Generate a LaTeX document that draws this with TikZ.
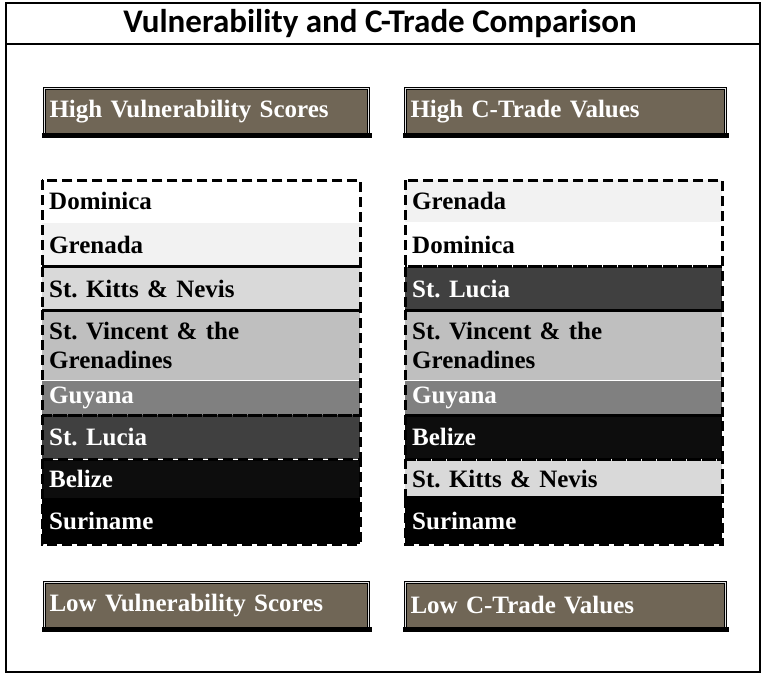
\documentclass[tikz,border=0pt]{standalone}
\usepackage{fontspec}
\setmainfont{Liberation Serif}
\newfontfamily\calibri{Carlito}
\usetikzlibrary{positioning}
\frenchspacing

\definecolor{headbrown}{HTML}{706656}
\definecolor{shade1}{HTML}{FFFFFF}
\definecolor{shade2}{HTML}{F2F2F2}
\definecolor{shade3}{HTML}{D9D9D9}
\definecolor{shade4}{HTML}{BFBFBF}
\definecolor{shade5}{HTML}{808080}
\definecolor{shade6}{HTML}{404040}
\definecolor{shade7}{HTML}{0D0D0D}
\definecolor{shade8}{HTML}{000000}

\begin{document}
\begin{tikzpicture}[x=1pt,y=-1pt,
    country/.style={anchor=north west,inner xsep=7pt,inner ysep=0pt,text width=#1,align=left,
        font=\fontsize{25}{29}\selectfont\bfseries,text=black},
    darkcountry/.style={country=#1,text=white},
    head/.style={anchor=north west,fill=headbrown,draw=black,line width=1pt,double=gray!25,
        double distance=1.5pt,inner xsep=5pt,inner ysep=0pt,minimum height=46pt,text width=#1,
        align=left,text=white,font=\fontsize{25}{29}\selectfont\bfseries},
    group/.style={draw=black,line width=3pt,dash pattern=on 10pt off 5pt},
    shadowbar/.style={line width=5pt,line cap=rect}]
\useasboundingbox (0,0) rectangle (761,673);
\draw[line width=2pt] (6,3) rectangle (759.5,672);
\draw[line width=2pt] (6,44) -- (759.5,44);
\node[font=\calibri\bfseries\fontsize{33}{38}\selectfont,anchor=base] (title) at (380,32) {Vulnerability and C-Trade Comparison};

% headers
\node[head=314pt] (hvs) at (44,88) {High Vulnerability Scores};
\node[head=310pt] (hct) at (405,88) {High C-Trade Values};
\node[head=314pt] (lvs) at (44,582) {Low Vulnerability Scores};
\node[head=310pt] (lct) at (405,582) {Low C-Trade Values};
\draw[shadowbar] (hvs.south west) -- (hvs.south east);
\draw[shadowbar] (hct.south west) -- (hct.south east);
\draw[shadowbar] (lvs.south west) -- (lvs.south east);
\draw[shadowbar] (lct.south west) -- (lct.south east);

% vulnerability ranking
\node[country=304pt,fill=shade1,minimum height=42pt] (vul_1) at (42,180) {Dominica};
\node[country=304pt,fill=shade2,minimum height=44pt] (vul_2) [below=0pt of vul_1] {Grenada};
\node[country=304pt,fill=shade3,minimum height=43pt] (vul_3) [below=0pt of vul_2] {St. Kitts \& Nevis};
\node[country=304pt,fill=shade4,minimum height=70pt] (vul_4) [below=0pt of vul_3] {St. Vincent \& the\\Grenadines};
\node[darkcountry=304pt,fill=shade5,minimum height=34pt] (vul_5) [below=0pt of vul_4] {Guyana};
\node[darkcountry=304pt,fill=shade6,minimum height=44pt] (vul_6) [below=0pt of vul_5] {St. Lucia};
\node[darkcountry=304pt,fill=shade7,minimum height=38pt] (vul_7) [below=0pt of vul_6] {Belize};
\node[darkcountry=304pt,fill=shade8,minimum height=46pt] (vul_8) [below=0pt of vul_7] {Suriname};

% c-trade ranking
\node[country=303pt,fill=shade2,minimum height=42pt] (ct_1) at (405,180) {Grenada};
\node[country=303pt,fill=shade1,minimum height=44pt] (ct_2) [below=0pt of ct_1] {Dominica};
\node[darkcountry=303pt,fill=shade6,minimum height=43pt] (ct_3) [below=0pt of ct_2] {St. Lucia};
\node[country=303pt,fill=shade4,minimum height=70pt] (ct_4) [below=0pt of ct_3] {St. Vincent \& the\\Grenadines};
\node[darkcountry=303pt,fill=shade5,minimum height=34pt] (ct_5) [below=0pt of ct_4] {Guyana};
\node[darkcountry=303pt,fill=shade7,minimum height=44pt] (ct_6) [below=0pt of ct_5] {Belize};
\node[country=303pt,fill=shade3,minimum height=38pt] (ct_7) [below=0pt of ct_6] {St. Kitts \& Nevis};
\node[darkcountry=303pt,fill=shade8,minimum height=46pt] (ct_8) [below=0pt of ct_7] {Suriname};

% dashed groups
\draw[group] (vul_1.north west) rectangle (vul_2.south east);
\draw[group] (vul_3.north west) rectangle (vul_3.south east);
\draw[group] (vul_4.north west) rectangle (vul_5.south east);
\draw[group] (vul_6.north west) rectangle (vul_6.south east);
\draw[group] (vul_7.north west) rectangle (vul_8.south east);
\draw[group] (ct_1.north west) rectangle (ct_2.south east);
\draw[group] (ct_3.north west) rectangle (ct_3.south east);
\draw[group] (ct_4.north west) rectangle (ct_5.south east);
\draw[group] (ct_6.north west) rectangle (ct_6.south east);
\draw[group] (ct_7.north west) rectangle (ct_7.south east);
\draw[group] (ct_8.north west) rectangle (ct_8.south east);
\end{tikzpicture}
\end{document}
